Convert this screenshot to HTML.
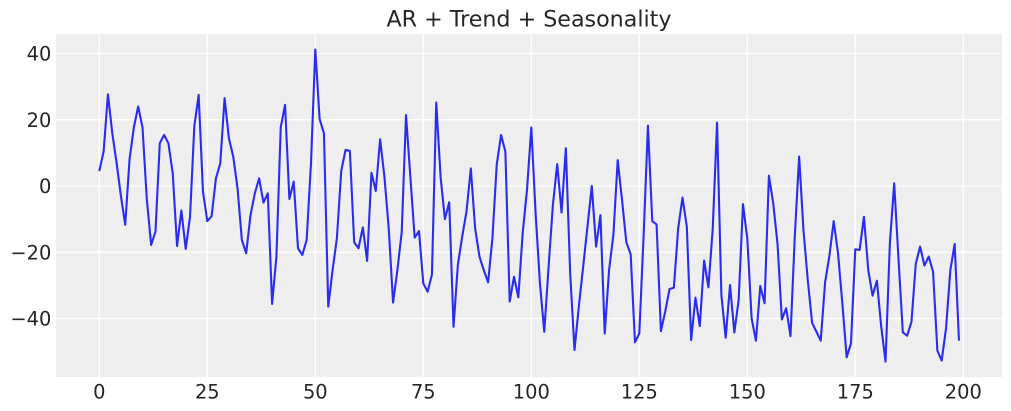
<!DOCTYPE html>
<html>
<head>
<meta charset="utf-8">
<style>
  html, body { margin:0; padding:0; background:#ffffff; }
  body { width:1011px; height:411px; overflow:hidden; }
  svg { display:block; }
  text { font-family: "DejaVu Sans", "Liberation Sans", sans-serif; fill:#262626; }
</style>
</head>
<body>
<svg width="1011" height="411" viewBox="0 0 1011 411" xmlns="http://www.w3.org/2000/svg">
  <rect x="0" y="0" width="1011" height="411" fill="#ffffff"/>
  <!-- plot area -->
  <rect x="56" y="34" width="946" height="343" fill="#eeeeee"/>
  <!-- grid lines -->
  <g stroke="#ffffff" stroke-width="1.2">
    <line x1="99.3" y1="34" x2="99.3" y2="377"/>
    <line x1="207.3" y1="34" x2="207.3" y2="377"/>
    <line x1="315.3" y1="34" x2="315.3" y2="377"/>
    <line x1="423.3" y1="34" x2="423.3" y2="377"/>
    <line x1="531.3" y1="34" x2="531.3" y2="377"/>
    <line x1="639.3" y1="34" x2="639.3" y2="377"/>
    <line x1="747.3" y1="34" x2="747.3" y2="377"/>
    <line x1="855.3" y1="34" x2="855.3" y2="377"/>
    <line x1="963.3" y1="34" x2="963.3" y2="377"/>
    <line x1="56" y1="53.5" x2="1002" y2="53.5"/>
    <line x1="56" y1="119.75" x2="1002" y2="119.75"/>
    <line x1="56" y1="186" x2="1002" y2="186"/>
    <line x1="56" y1="252.25" x2="1002" y2="252.25"/>
    <line x1="56" y1="318.5" x2="1002" y2="318.5"/>
  </g>
  <!-- series -->
  <g transform="translate(99.3,186) scale(4.32,-3.3125)">
    <polyline fill="none" stroke="#2a2eec" stroke-width="2.1" stroke-linejoin="round" stroke-linecap="butt" vector-effect="non-scaling-stroke"
      points="0,4.5 1,10.4 2,27.7 3,16 4,7 5,-3 6,-11.7 7,8 8,17.7 9,24 10,17.7 11,-4 12,-17.8 13,-13.8 14,12.9 15,15.4 16,12.9 17,3.8 18,-18.1 19,-7.4 20,-19 21,-9.3 22,18.1 23,27.5 24,-1.7 25,-10.6 26,-9.1 27,2.3 28,6.8 29,26.5 30,14.4 31,8.9 32,-0.7 33,-16.3 34,-20.3 35,-8.8 36,-2.2 37,2.3 38,-5 39,-2.2 40,-35.6 41,-21.3 42,17.7 43,24.5 44,-3.9 45,1.3 46,-18.8 47,-20.8 48,-16.3 49,6.8 50,41.2 51,20.2 52,15.9 53,-36.4 54,-25.4 55,-15.8 56,4.5 57,10.9 58,10.6 59,-17 60,-18.8 61,-12.5 62,-22.6 63,4 64,-1.5 65,14.1 66,2.8 67,-12.8 68,-35.2 69,-25.4 70,-14 71,21.4 72,2.8 73,-15.6 74,-13.6 75,-29.4 76,-31.9 77,-26.7 78,25.2 79,2.8 80,-10 81,-4.9 82,-42.5 83,-23.8 84,-15.3 85,-7.7 86,5.3 87,-12.8 88,-21.3 89,-25.4 90,-29.1 91,-15.8 92,6.5 93,15.4 94,10.4 95,-34.9 96,-27.4 97,-33.6 98,-14.3 99,-1.2 100,17.7 101,-8.3 102,-29.4 103,-44 104,-24.4 105,-5.7 106,6.6 107,-8 108,11.4 109,-26.4 110,-49.5 111,-36.4 112,-24.4 113,-12.3 114,0 115,-18.3 116,-8.8 117,-44.5 118,-25.4 119,-14.8 120,7.8 121,-4.2 122,-17 123,-20.6 124,-47.2 125,-44.5 126,-15 127,18.2 128,-10.6 129,-11.6 130,-43.8 131,-37.9 132,-31.1 133,-30.7 134,-12.8 135,-3.5 136,-12.3 137,-46.5 138,-33.7 139,-42.3 140,-22.5 141,-30.6 142,-12.8 143,19.1 144,-32.9 145,-45.8 146,-29.9 147,-44.2 148,-34.4 149,-5.5 150,-15.8 151,-40 152,-46.7 153,-30.2 154,-35.4 155,3.1 156,-5.2 157,-17.5 158,-40.3 159,-36.9 160,-45.3 161,-15 162,8.9 163,-13.3 164,-28.4 165,-41.3 166,-44 167,-46.7 168,-29.2 169,-21.1 170,-10.6 171,-20.3 172,-35.4 173,-51.7 174,-47.5 175,-19.1 176,-19.3 177,-9.3 178,-25.4 179,-33.1 180,-28.6 181,-42.5 182,-53 183,-17.3 184,0.8 185,-22 186,-44.2 187,-45.2 188,-41 189,-23.5 190,-18.3 191,-24 192,-21.3 193,-25.9 194,-49.7 195,-52.7 196,-43 197,-25.4 198,-17.5 199,-46.7"/>
  </g>
  <!-- title -->
  <text x="529" y="26.7" font-size="22.2" text-anchor="middle">AR + Trend + Seasonality</text>
  <!-- y tick labels -->
  <g font-size="19.4" text-anchor="end">
    <text x="51.3" y="60.5">40</text>
    <text x="51.3" y="126.8">20</text>
    <text x="51.3" y="193">0</text>
    <text x="51.3" y="259.3">−20</text>
    <text x="51.3" y="325.5">−40</text>
  </g>
  <!-- x tick labels -->
  <g font-size="19.4" text-anchor="middle">
    <text x="99.3" y="398.3">0</text>
    <text x="207.3" y="398.3">25</text>
    <text x="315.3" y="398.3">50</text>
    <text x="423.3" y="398.3">75</text>
    <text x="531.3" y="398.3">100</text>
    <text x="639.3" y="398.3">125</text>
    <text x="747.3" y="398.3">150</text>
    <text x="855.3" y="398.3">175</text>
    <text x="963.3" y="398.3">200</text>
  </g>
</svg>
</body>
</html>
